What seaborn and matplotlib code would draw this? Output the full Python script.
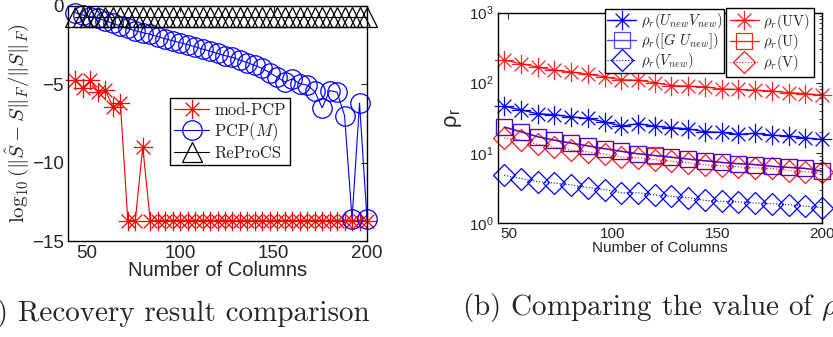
import numpy as np
import pandas as pd
import seaborn as sns
import matplotlib.pyplot as plt
from matplotlib.path import Path
from matplotlib.ticker import LogLocator, NullFormatter

# ---- data ----
cols_a = [44, 48, 52, 56, 60, 64, 68, 72, 76, 80, 84, 88, 92, 96, 100, 104, 108, 112, 116, 120,
          124, 128, 132, 136, 140, 144, 148, 152, 156, 160, 164, 168, 172, 176, 180, 184, 188, 192, 196, 200]
mod_pcp = [-4.73, -5.26, -4.73, -5.48, -5.37, -6.44, -6.18, -13.7, -13.7, -9.0,
           -13.7, -13.7, -13.7, -13.7, -13.7, -13.7, -13.7, -13.7, -13.7, -13.7,
           -13.7, -13.7, -13.7, -13.7, -13.7, -13.7, -13.7, -13.7, -13.7, -13.7,
           -13.7, -13.7, -13.7, -13.7, -13.7, -13.7, -13.7, -13.7, -13.7, -13.7]
pcp_m = [-0.43, -0.58, -0.68, -0.79, -0.94, -1.10, -1.28, -1.43, -1.58, -1.70,
         -1.81, -1.96, -2.09, -2.22, -2.34, -2.47, -2.60, -2.75, -2.88, -3.03,
         -3.17, -3.28, -3.45, -3.62, -3.79, -3.98, -4.26, -4.55, -4.85, -4.65,
         -4.95, -5.05, -5.45, -6.50, -5.40, -5.50, -7.00, -13.6, -6.20, -13.6]
reprocs = [-0.7, -0.7, -0.7, -0.7, -0.7, -0.7, -0.7, -0.7, -0.7, -0.7,
           -0.7, -0.7, -0.7, -0.7, -0.7, -0.7, -0.7, -0.7, -0.7, -0.7,
           -0.7, -0.7, -0.7, -0.7, -0.7, -0.7, -0.7, -0.7, -0.7, -0.7,
           -0.7, -0.7, -0.7, -0.7, -0.7, -0.7, -0.7, -0.7, -0.7, -0.7]

cols_b = [48, 56, 64, 72, 80, 88, 96, 104, 112, 120, 128, 136, 144, 152, 160, 168, 176, 184, 192, 200]
rho_uv = [209, 187, 167, 150, 142, 132, 121, 110, 108, 100, 91, 89, 87, 81, 80, 78, 76, 72, 70, 66]
rho_u = [23.2, 19.9, 16.9, 15.1, 13.7, 12.5, 11.4, 10.5, 9.7, 9.1, 8.6, 8.1, 7.7, 7.3, 7.0, 6.8, 6.4, 6.2, 6.0, 5.5]
rho_v = [16.3, 15.2, 13.2, 12.1, 10.9, 10.3, 9.6, 8.7, 8.5, 8.0, 7.6, 7.2, 6.8, 6.5, 6.3, 6.1, 6.0, 5.6, 5.4, 5.3]
rho_unew_vnew = [46, 41, 36, 35, 32.5, 31, 27.6, 24, 26, 24, 22.8, 22, 20, 19.5, 18.3, 19, 17.8, 17.4, 16.3, 15.5]
rho_g_unew = [23.4, 20, 17, 15.2, 13.8, 12.6, 11.5, 10.5, 9.7, 9.2, 8.7, 8.2, 7.7, 7.3, 7.0, 6.8, 6.45, 6.2, 6.0, 5.5]
rho_vnew = [4.8, 4.3, 3.9, 3.7, 3.5, 3.2, 3.0, 2.7, 2.7, 2.5, 2.4, 2.3, 2.1, 2.04, 2.0, 1.93, 1.88, 1.82, 1.73, 1.66]

# MATLAB style asterisk marker
d = 0.7071
STAR = Path([(-1, 0), (1, 0), (0, -1), (0, 1), (-d, -d), (d, d), (-d, d), (d, -d)],
            [Path.MOVETO, Path.LINETO] * 4)

sns.set_style('white')
plt.rcParams['font.family'] = ['Liberation Sans', 'DejaVu Sans']
plt.rcParams['mathtext.fontset'] = 'cm'
plt.rcParams['axes.linewidth'] = 1.0

fig = plt.figure(figsize=(8.33, 3.37), dpi=100)
W, H = 833, 337
ax1 = fig.add_axes([68 / W, 1 - 241 / H, 299 / W, 235 / H])
ax2 = fig.add_axes([498 / W, 1 - 223 / H, 324 / W, 210.5 / H])


def draw(ax, x, y, **kw):
    kw.setdefault('markerfacecolor', 'none')
    kw.setdefault('markeredgecolor', kw.get('color'))
    kw.setdefault('markeredgewidth', 0.9)
    sns.lineplot(x=x, y=y, ax=ax, estimator=None, sort=False, errorbar=None,
                 clip_on=False, **kw)
    return ax.lines[-1]


# ---- (a) recovery comparison ----
h1 = draw(ax1, cols_a, mod_pcp, color='red', marker=STAR, markersize=14, lw=0.8)
h2 = draw(ax1, cols_a, pcp_m, color='blue', marker='o', markersize=14, lw=0.8)
h3 = draw(ax1, cols_a, reprocs, color='black', marker='^', markersize=14, lw=0.8)

ax1.set_xlim(40, 200)
ax1.set_ylim(-15, 0)
ax1.set_xticks([50, 100, 150, 200])
ax1.set_yticks([0, -5, -10, -15])
ax1.tick_params(direction='in', length=4, labelsize=13.5, top=True, right=True, pad=3)
ax1.set_xlabel('Number of Columns', fontsize=14.5, labelpad=-1)
ax1.set_ylabel(r'$\log_{10}(\|\hat{S}-S\|_F/\|S\|_F)$', fontsize=15, labelpad=1)
leg1 = ax1.legend([h1, h2, h3], ['mod-PCP', r'PCP$(M)$', 'ReProCS'],
                  loc='lower left', bbox_to_anchor=(0.341, 0.323), borderaxespad=0,
                  prop={'family': 'cmr10', 'size': 12}, handlelength=2.1,
                  handletextpad=0.3, labelspacing=0.15, borderpad=0.25,
                  fancybox=False, framealpha=1, edgecolor='black')
leg1.get_frame().set_linewidth(1.0)

# ---- (b) rho_r comparison ----
r1 = draw(ax2, cols_b, rho_uv, color='red', marker=STAR, markersize=14, lw=1.0, alpha=0.85)
r2 = draw(ax2, cols_b, rho_u, color='red', marker='s', markersize=11, lw=1.0, alpha=0.85)
r3 = draw(ax2, cols_b, rho_v, color='red', marker='D', markersize=11.5, lw=0.8, ls=':', alpha=0.9)
b1 = draw(ax2, cols_b, rho_unew_vnew, color='blue', marker=STAR, markersize=14, lw=1.0)
b2 = draw(ax2, cols_b, rho_g_unew, color='blue', marker='s', markersize=11, lw=1.0, alpha=0.7)
b3 = draw(ax2, cols_b, rho_vnew, color='blue', marker='D', markersize=11.5, lw=0.8, ls=':')

ax2.set_yscale('log')
ax2.set_xlim(45, 200)
ax2.set_ylim(1, 1000)
ax2.set_xticks([50, 100, 150, 200])
ax2.yaxis.set_major_locator(LogLocator(base=10, numticks=5))
ax2.yaxis.set_minor_locator(LogLocator(base=10, subs=np.arange(2, 10), numticks=20))
ax2.yaxis.set_minor_formatter(NullFormatter())
ax2.tick_params(which='both', direction='in', labelsize=11, top=True, right=True, pad=3)
ax2.tick_params(which='major', length=4)
ax2.tick_params(which='minor', length=2)
ax2.set_xlabel('Number of Columns', fontsize=11, labelpad=0)
ax2.set_ylabel(r'ρ$_{\mathdefault{r}}$', fontsize=16, labelpad=4)

legb = ax2.legend([b1, b2, b3],
                  [r'$\rho_r(U_{new}V_{new})$', r'$\rho_r([G\ U_{new}])$', r'$\rho_r(V_{new})$'],
                  loc='upper left', bbox_to_anchor=(0.330, 1.018), borderaxespad=0,
                  fontsize=10.5, handlelength=2.0, handletextpad=0.3, labelspacing=0.0,
                  borderpad=0.15, fancybox=False, framealpha=1, edgecolor='black')
legb.get_frame().set_linewidth(1.0)
ax2.add_artist(legb)
legr = ax2.legend([r1, r2, r3],
                  [r'$\rho_r(\mathrm{UV})$', r'$\rho_r(\mathrm{U})$', r'$\rho_r(\mathrm{V})$'],
                  loc='upper left', bbox_to_anchor=(0.704, 1.022), borderaxespad=0,
                  fontsize=10.5, handlelength=2.0, handletextpad=0.3, labelspacing=0.05,
                  borderpad=0.25, fancybox=False, framealpha=1, edgecolor='black')
legr.get_frame().set_linewidth(1.0)

for ax in (ax1, ax2):
    for s in ax.spines.values():
        s.set_color('black')

# ---- captions (cut off at the figure edges, as in the source) ----
fig.text(370 / W, 1 - 314 / H, '(a) Recovery result comparison', family='cmr10',
         fontsize=21, ha='right', va='center')
fig.text(462 / W, 1 - 308 / H, r'(b) Comparing the value of $\rho_r$', family='cmr10',
         fontsize=21, ha='left', va='center')

fig.savefig('out.png', dpi=100)
